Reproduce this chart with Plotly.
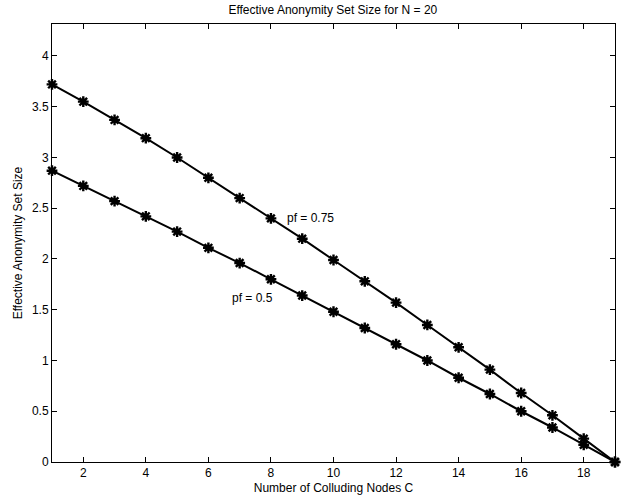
import plotly.graph_objects as go

nodes = list(range(1, 20))
pf_075 = [3.72, 3.55, 3.37, 3.19, 3.00, 2.80, 2.60, 2.40, 2.20, 1.99,
          1.78, 1.57, 1.35, 1.13, 0.91, 0.68, 0.46, 0.23, 0.0]
pf_05 = [2.87, 2.72, 2.57, 2.42, 2.27, 2.11, 1.96, 1.80, 1.64, 1.48,
         1.32, 1.16, 1.00, 0.83, 0.67, 0.50, 0.34, 0.17, 0.0]
x_ticks = [2, 4, 6, 8, 10, 12, 14, 16, 18]
y_ticks = [0, 0.5, 1, 1.5, 2, 2.5, 3, 3.5, 4]
y_tick_text = ["0", "0.5", "1", "1.5", "2", "2.5", "3", "3.5", "4"]

fig = go.Figure()
for ys in (pf_075, pf_05):
    fig.add_trace(go.Scatter(
        x=nodes, y=ys, mode="lines+markers",
        line=dict(color="black", width=2),
        marker=dict(symbol="asterisk-open", size=9,
                    line=dict(color="black", width=2.4)),
        showlegend=False, cliponaxis=False))

fig.add_annotation(x=8.45, y=2.40, text="pf = 0.75", showarrow=False,
                   xanchor="left", yanchor="middle", font=dict(size=12, color="black"))
fig.add_annotation(x=6.7, y=1.62, text="pf = 0.5", showarrow=False,
                   xanchor="left", yanchor="middle", font=dict(size=12, color="black"))

axis_common = dict(showgrid=False, zeroline=False, showline=True, linecolor="black",
                   linewidth=1, mirror="ticks", ticks="inside", ticklen=5,
                   tickcolor="black", tickfont=dict(size=12, color="black"))
fig.update_xaxes(range=[1, 19], tickvals=x_ticks,
                 title=dict(text="Number of Colluding Nodes C", font=dict(size=12, color="black"), standoff=4),
                 **axis_common)
fig.update_yaxes(range=[0, 4.315], tickvals=y_ticks, ticktext=y_tick_text,
                 title=dict(text="Effective Anonymity Set Size", font=dict(size=12, color="black"), standoff=6),
                 **axis_common)

fig.update_layout(
    width=621, height=500,
    margin=dict(l=52, r=6, t=24, b=38),
    paper_bgcolor="white", plot_bgcolor="white",
    font=dict(family="Liberation Sans, Arial, sans-serif", size=12, color="black"),
    title=dict(text="Effective Anonymity Set Size for N = 20", x=0.536, xanchor="center",
               y=0.98, yanchor="middle", font=dict(size=12, color="black")),
)

fig.write_html("out.html", config={"displayModeBar": False},
               post_script="document.body.style.margin='0';")
